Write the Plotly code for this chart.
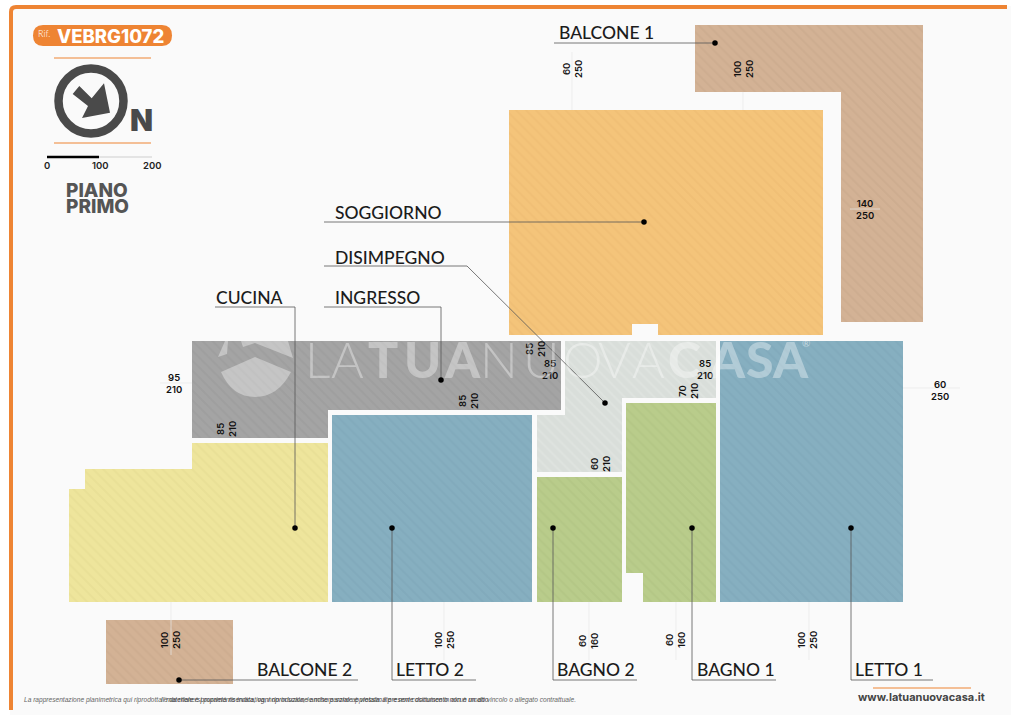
import plotly.graph_objects as go

# rooms, outlines (picture pixels)
room_names = ["BALCONE 1", "SOGGIORNO", "INGRESSO", "CUCINA", "LETTO 2", "DISIMPEGNO", "BAGNO 2", "BAGNO 1", "LETTO 1", "BALCONE 2"]
room_colors = ["#D3B295", "#F4C47A", "#A4A4A4", "#EEE59C", "#86AFC0", "#D9DEDA", "#B9CC8B", "#B9CC8B", "#86AFC0", "#D3B295"]
room_hatch = ["#C8A78B", "#ECBA72", "#999999", "#E4DB92", "#7DA6B7", "#E3E7E3", "#AFC281", "#AFC281", "#7DA6B7", "#C8A78B"]
room_x = [
    [695, 923, 923, 841, 841, 695],
    [509, 823, 823, 658, 658, 632, 632, 509],
    [192, 561, 561, 328, 328, 192],
    [192, 328, 328, 69, 69, 85, 85, 192],
    [332, 532, 532, 332],
    [565, 716, 716, 622, 622, 537, 537, 565],
    [537, 622, 622, 537],
    [626, 716, 716, 643, 643, 626],
    [720, 903, 903, 720],
    [106, 233, 233, 106],
]
room_y = [
    [25, 25, 322, 322, 92, 92],
    [110, 110, 335, 335, 324, 324, 335, 335],
    [341, 341, 410, 410, 438, 438],
    [443, 443, 602, 602, 489, 489, 469, 469],
    [415, 415, 602, 602],
    [341, 341, 398, 398, 472, 472, 415, 415],
    [477, 477, 602, 602],
    [403, 403, 602, 602, 573, 573],
    [341, 341, 602, 602],
    [620, 620, 684, 684],
]

# room name labels and the leader going from each label to its dot
label_x = [557, 333, 333, 214, 394, 333, 555, 695, 853, 255]
label_y = [32, 212, 297, 297, 669, 257, 669, 669, 669, 669]
leader_x = [[554, 715], [324, 644], [324, 441, 441], [215, 295, 295], [476, 392, 392], [324, 467, 605], [637, 553, 553], [776, 692, 692], [933, 851, 851], [358, 179]]
leader_y = [[43, 43], [222, 222], [307, 307, 380], [307, 307, 528], [680, 680, 528], [266, 266, 403], [680, 680, 528], [680, 680, 528], [680, 680, 528], [680, 680]]

# door sizes: width, height, position, rotated or not
dim_width = ["60", "100", "140", "60", "95", "85", "85", "85", "85", "85", "70", "60", "100", "100", "60", "60", "100"]
dim_height = ["250", "250", "250", "250", "210", "210", "210", "210", "210", "210", "210", "210", "250", "250", "160", "160", "250"]
dim_x = [572, 743, 865, 940, 174, 226, 468, 535, 550, 705, 688, 600, 170, 444, 588, 675, 807]
dim_y = [69, 69, 209, 390, 383, 429, 401, 349, 369, 369, 391, 464, 640, 640, 641, 640, 640]
dim_angle = [-90, -90, 0, 0, 0, -90, -90, -90, 0, 0, -90, -90, -90, -90, -90, -90, -90]

guide_x = [[572, 572], [743, 743], [850, 880], [903, 960], [160, 192], [171, 171], [444, 444], [589, 589], [676, 676], [809, 809]]
guide_y = [[52, 110], [92, 110], [209, 209], [388, 388], [383, 383], [602, 655], [602, 660], [602, 660], [602, 660], [602, 660]]

# watermark letters, the original is widely tracked
wm_letters = ["L", "A", "T", "U", "A", "N", "U", "O", "V", "A", "C", "A", "S", "A"]
wm_x = [303, 329, 366, 402, 442, 478, 521, 561, 596, 630, 666, 707, 744, 770]
wm_weight = [300, 300, 900, 900, 900, 300, 300, 300, 300, 300, 900, 900, 900, 900]

scale_labels = ["0", "100", "200"]
scale_x = [47, 100, 152]

NUM_FONT = "Inter"
TXT_FONT = "Lato"
ORANGE = "#EE8433"
DARK = "#4A4A4A"

fig = go.Figure()

for i in range(len(room_names)):
    fig.add_trace(go.Scatter(x=room_x[i], y=room_y[i], mode="none", fill="toself", name=room_names[i], hoverinfo="skip",
                             fillpattern=dict(shape="\\", bgcolor=room_colors[i], fgcolor=room_hatch[i], size=7, solidity=0.3)))

for i in range(len(guide_x)):
    fig.add_trace(go.Scatter(x=guide_x[i], y=guide_y[i], mode="lines", line=dict(color="#E6E6E6", width=0.7), hoverinfo="skip"))

for i in range(len(leader_x)):
    fig.add_trace(go.Scatter(x=leader_x[i], y=leader_y[i], mode="lines", line=dict(color="#555555", width=0.8), hoverinfo="skip"))
    fig.add_trace(go.Scatter(x=[leader_x[i][-1]], y=[leader_y[i][-1]], mode="markers", marker=dict(color="#000000", size=5.5), hoverinfo="skip"))


def note(x, y, text, size, color="#111111", family=NUM_FONT, weight=400, anchor="center", angle=0, style="normal"):
    fig.add_annotation(x=x, y=y, text=text, showarrow=False, xanchor=anchor, yanchor="middle", textangle=angle,
                       font=dict(size=size, color=color, family=family, weight=weight, style=style))


for i in range(len(room_names)):
    note(label_x[i], label_y[i], room_names[i], 17.5, "#1C1C1C", TXT_FONT, 500, "left")

for i in range(len(dim_width)):
    note(dim_x[i], dim_y[i], dim_width[i] + "<br>" + dim_height[i], 9.5, "#111111", NUM_FONT, 600, angle=dim_angle[i])

for i in range(len(wm_letters)):
    note(wm_x[i], 358.5, wm_letters[i], 50, "rgba(255,255,255,0.36)", TXT_FONT, wm_weight[i], "left")
note(806, 343, "®", 10, "rgba(255,255,255,0.5)", TXT_FONT)

# top left block
note(44, 33, "Rif.", 9, "#FFFFFF", TXT_FONT, 300)
note(55, 36, "VEBRG1072", 18.5, "#FFFFFF", NUM_FONT, 800, "left")
note(141, 120, "N", 30, DARK, NUM_FONT, 900)
for i in range(3):
    note(scale_x[i], 165, scale_labels[i], 9.5, "#222222", NUM_FONT, 600)
note(97, 190, "PIANO", 19, "#555555", NUM_FONT, 800)
note(97, 206, "PRIMO", 19, "#555555", NUM_FONT, 800)

# footer, the original has two disclaimers printed on top of each other
note(22, 700, "La rappresentazione planimetrica qui riprodotta è da ritenersi puramente indicativa, non in scala, le misure sono approssimate e non costituisce in alcun modo vincolo o allegato contrattuale.", 6.6, "#666666", "Liberation Sans", 400, "left", style="italic")
note(159, 700, "Il materiale è proprietà riservata, ogni riproduzione anche parziale è vietata: il presente documento non è un atto", 6.6, "#444444", "Liberation Sans", 400, "left", style="italic")
note(921, 697, "www.latuanuovacasa.it", 11, "#444444", NUM_FONT, 700)

shapes = [
    dict(type="rect", x0=10, y0=6, x1=1011, y1=715, fillcolor="#FAFAFA", line_width=0, layer="below"),
    dict(type="path", path="M 11,710 L 11,12 Q 11,7 16,7 L 1007,7", line=dict(color=ORANGE, width=4), layer="below"),
    dict(type="path", path="M 43,25 L 162,25 Q 172,25 172,35.5 Q 172,46 162,46 L 43,46 Q 33,46 33,35.5 Q 33,25 43,25 Z", fillcolor=ORANGE, line_width=0, layer="below"),
    dict(type="line", x0=54, x1=151, y0=58, y1=58, line=dict(color=ORANGE, width=1), layer="below"),
    dict(type="line", x0=54, x1=151, y0=143, y1=143, line=dict(color=ORANGE, width=1), layer="below"),
    dict(type="circle", x0=58.5, x1=123.5, y0=68.5, y1=133.5, line=dict(color=DARK, width=8.5), layer="below"),
    dict(type="path", path="M 72.7,94 L 79.3,86 L 91.7,98.3 L 104,83.3 L 110,112.7 L 82,118 L 88,106 Z", fillcolor=DARK, line_width=0, layer="below"),
    dict(type="line", x0=47, x1=99, y0=157, y1=157, line=dict(color="#000000", width=2.5), layer="below"),
    dict(type="line", x0=99, x1=152, y0=157, y1=157, line=dict(color="#E4E4E4", width=2), layer="below"),
    dict(type="line", x0=873, x1=971, y0=688, y1=688, line=dict(color=ORANGE, width=1), layer="below"),
    # house of the watermark
    dict(type="path", path="M 221,372 L 255,357 L 291,372 Q 278,397 255,397 Q 232,397 221,372 Z", fillcolor="rgba(255,255,255,0.36)", line_width=0, layer="above"),
    dict(type="path", path="M 218,357 L 225,341 L 228,341 L 227,354 Z", fillcolor="rgba(255,255,255,0.36)", line_width=0, layer="above"),
    dict(type="path", path="M 241,341 L 243,347 L 255,343 L 293,358 L 288,341 Z", fillcolor="rgba(255,255,255,0.36)", line_width=0, layer="above"),
]

fig.update_layout(
    width=1024, height=724, margin=dict(l=0, r=0, t=0, b=0), showlegend=False,
    paper_bgcolor="#FFFFFF", plot_bgcolor="#FFFFFF", shapes=shapes,
    xaxis=dict(range=[0, 1024], visible=False, fixedrange=True),
    yaxis=dict(range=[724, 0], visible=False, fixedrange=True),
)

fig.write_html("out.html", config=dict(displayModeBar=False), post_script="document.body.style.margin='0';document.body.style.overflow='hidden';")
